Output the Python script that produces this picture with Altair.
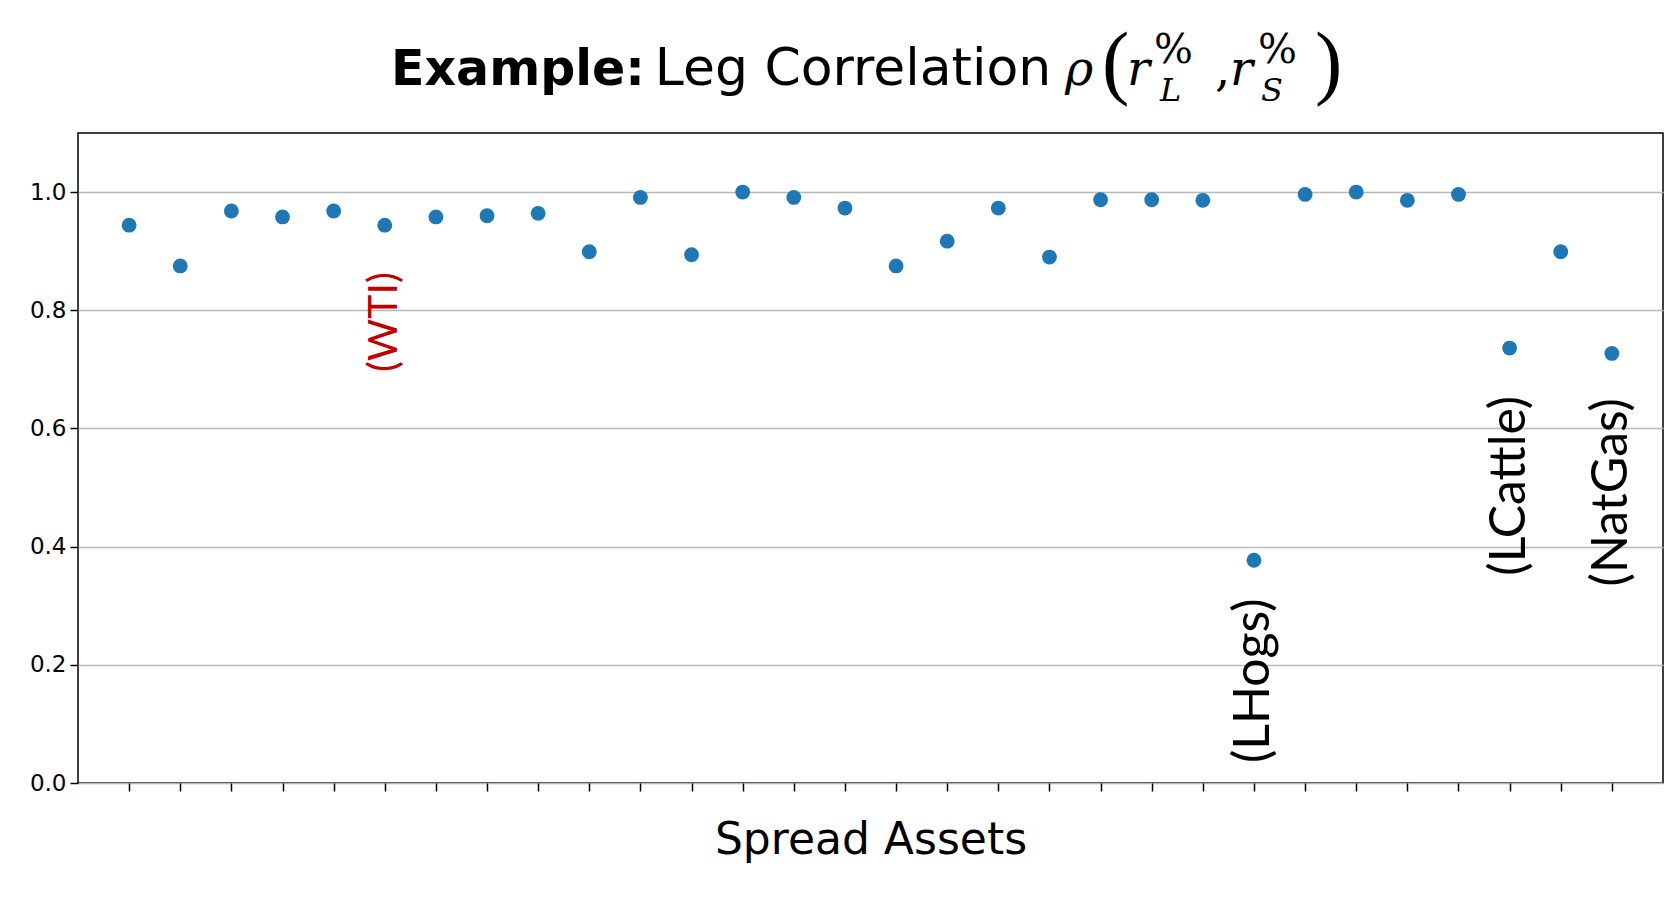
import altair as alt
import pandas as pd

# ---- data ----
asset_index = list(range(30))
correlation = [0.944, 0.875, 0.968, 0.958, 0.968, 0.944, 0.958, 0.960, 0.964, 0.899,
               0.991, 0.894, 1.000, 0.991, 0.973, 0.875, 0.917, 0.973, 0.890, 0.987,
               0.987, 0.986, 0.377, 0.996, 1.000, 0.986, 0.996, 0.736, 0.899, 0.727]

label_text = ["(WTI)", "(LHogs)", "(LCattle)", "(NatGas)"]
label_index = [5, 22, 27, 29]
label_y = [0.780, 0.173, 0.503, 0.492]
label_color = ["#c00000", "black", "black", "black"]

y_ticks = [0.0, 0.2, 0.4, 0.6, 0.8, 1.0]

df = pd.DataFrame({"idx": asset_index, "corr": correlation})
lab = pd.DataFrame({"idx": label_index, "y": label_y, "t": label_text, "c": label_color})

W, H = 1585, 650

xscale = alt.Scale(domain=[-1, 30], nice=False, zero=False)
yscale = alt.Scale(domain=[0, 1.1], nice=False)

points = alt.Chart(df).mark_circle(size=220, color="#1f77b4", opacity=1).encode(
    x=alt.X("idx:Q", scale=xscale,
            axis=alt.Axis(values=asset_index, labels=False, grid=False, domain=False,
                          tickSize=8, tickWidth=1.5, tickColor="black",
                          title="Spread Assets", titleFont="DejaVu Sans",
                          titleFontSize=44, titleFontWeight="normal",
                          titleColor="black", titlePadding=27)),
    y=alt.Y("corr:Q", scale=yscale,
            axis=alt.Axis(values=y_ticks, format=".1f", grid=True, gridColor="#b8b8b8",
                          gridWidth=1.5, domain=False, tickSize=8, tickWidth=1.5,
                          tickColor="black", labelFont="DejaVu Sans", labelFontSize=23,
                          labelColor="black", labelPadding=4, title=None)),
)


def label_layer(test, size):
    return alt.Chart(lab).transform_filter(test).mark_text(
        angle=270, font="Lato", fontSize=size, align="center", baseline="middle"
    ).encode(
        x=alt.X("idx:Q", scale=xscale),
        y=alt.Y("y:Q", scale=yscale),
        text="t:N",
        color=alt.Color("c:N", scale=None),
    )


labels_small = label_layer("datum.t == '(WTI)'", 41)
labels_big = label_layer("datum.t != '(WTI)'", 50)


def piece(s, px, py, font, size, weight="normal", style="normal", align="left"):
    return alt.Chart(pd.DataFrame({"t": [s]})).mark_text(
        font=font, fontSize=size, fontWeight=weight, fontStyle=style,
        align=align, baseline="alphabetic", color="black"
    ).encode(text="t:N", x=alt.value(px), y=alt.value(py))


title_layers = [
    piece("Example:", 313, -48, "DejaVu Sans", 49, weight="bold"),
    piece("Leg Correlation", 775, -48, "DejaVu Sans", 52, align="center"),
    piece("ρ", 987, -48, "DejaVu Serif", 48, style="italic"),
    piece("(", 1024, -44, "Liberation Serif", 82),
    piece("r", 1049, -48, "DejaVu Serif", 48, style="italic"),
    piece("%", 1076, -70, "DejaVu Serif", 41),
    piece("L", 1082, -32, "DejaVu Serif", 32, style="italic"),
    piece(",", 1137, -48, "DejaVu Serif", 48),
    piece("r", 1152, -48, "DejaVu Serif", 48, style="italic"),
    piece("%", 1180, -70, "DejaVu Serif", 41),
    piece("S", 1183, -32, "DejaVu Serif", 32, style="italic"),
    piece(")", 1237, -44, "Liberation Serif", 82),
]

chart = alt.layer(points, labels_small, labels_big, *title_layers).properties(
    width=W, height=H,
    background="white",
    autosize=alt.AutoSizeParams(type="none"),
    padding={"left": 70, "top": 125, "right": 3, "bottom": 100},
).configure_view(stroke="black", strokeWidth=1.5)

chart.save("out.html", embed_options={"renderer": "svg", "actions": False})
